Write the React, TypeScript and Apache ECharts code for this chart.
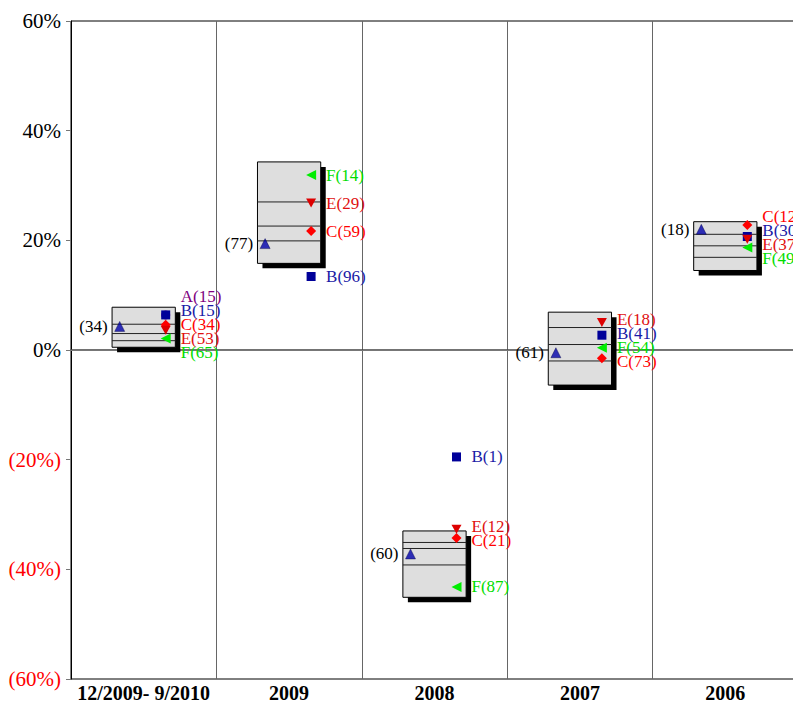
import React, { useEffect, useRef } from "react";
import * as echarts from "echarts";

// ---------- data ----------
const categories = ["12/2009- 9/2010", "2009", "2008", "2007", "2006"];
const boxTop = [7.8, 34.3, -33.0, 6.9, 23.4];
const boxLine1 = [4.7, 27.0, -35.1, 4.1, 21.1];
const boxLine2 = [3.0, 22.6, -36.2, 1.0, 19.0];
const boxLine3 = [1.7, 19.9, -39.2, -2.0, 16.9];
const boxBottom = [0.5, 15.8, -45.1, -6.4, 14.5];

const peerValues = [4.3, 19.4, -37.2, -0.5, 22.0];
const peerRanks = [34, 77, 60, 61, 18];

const fundAValues = [6.4, null, null, null, null];
const fundARanks = [15, null, null, null, null];
const fundBValues = [6.4, 13.4, -19.5, 2.7, 20.7];
const fundBRanks = [15, 96, 1, 41, 30];
const fundCValues = [4.6, 21.7, -34.3, -1.5, 22.8];
const fundCRanks = [34, 59, 21, 73, 12];
const fundEValues = [3.6, 26.8, -32.7, 5.0, 20.2];
const fundERanks = [53, 29, 12, 18, 37];
const fundFValues = [2.1, 31.9, -43.2, 0.4, 18.7];
const fundFRanks = [65, 14, 87, 54, 49];

const Y_MIN = -60;
const Y_MAX = 60;
const Y_STEP = 20;

// ---------- layout / style ----------
const CHART_W = 800;
const GRID_LEFT = 71;
const GRID_TOP = 21;
const GRID_W = 727;
const GRID_H = 659;
const FONT = '"Liberation Serif", "Times New Roman", serif';

type Fund = {
  name: string;
  values: (number | null)[];
  ranks: (number | null)[];
  symbol: string;
  rotate: number;
  size: number[];
  color: string;
  labelColor: string;
};

const funds: Fund[] = [
  { name: "A", values: fundAValues, ranks: fundARanks, symbol: "circle", rotate: 0, size: [9, 9], color: "#800080", labelColor: "#800080" },
  { name: "B", values: fundBValues, ranks: fundBRanks, symbol: "rect", rotate: 0, size: [9, 9], color: "#000099", labelColor: "#1a1aa6" },
  { name: "C", values: fundCValues, ranks: fundCRanks, symbol: "diamond", rotate: 0, size: [10, 10], color: "#ff0000", labelColor: "#ff0000" },
  { name: "E", values: fundEValues, ranks: fundERanks, symbol: "triangle", rotate: 180, size: [10, 9], color: "#dd0000", labelColor: "#e01010" },
  { name: "F", values: fundFValues, ranks: fundFRanks, symbol: "triangle", rotate: 90, size: [10, 10], color: "#00ee00", labelColor: "#00dd00" },
];

const PX_PER_UNIT = GRID_H / (Y_MAX - Y_MIN);
const LABEL_GAP = 14 / PX_PER_UNIT;

type LabelItem = { cat: number; value: number; text: string; color: string; labelValue: number };

function buildLabels(): LabelItem[] {
  const out: LabelItem[] = [];
  categories.forEach((_, ci) => {
    const items: LabelItem[] = [];
    funds.forEach((f) => {
      const v = f.values[ci];
      if (v == null) return;
      items.push({ cat: ci, value: v, text: `${f.name}(${f.ranks[ci]})`, color: f.labelColor, labelValue: v });
    });
    items.sort((a, b) => b.value - a.value);
    let clusters = items.map((it) => ({ members: [it], center: it.value }));
    const top = (c: any) => c.center + ((c.members.length - 1) / 2) * LABEL_GAP;
    const bottom = (c: any) => c.center - ((c.members.length - 1) / 2) * LABEL_GAP;
    let changed = true;
    while (changed) {
      changed = false;
      for (let k = 0; k < clusters.length - 1; k++) {
        const a = clusters[k];
        const b = clusters[k + 1];
        if (bottom(a) - top(b) < LABEL_GAP - 1e-9) {
          const members = a.members.concat(b.members);
          const center = members.reduce((s, m) => s + m.value, 0) / members.length;
          clusters.splice(k, 2, { members, center });
          changed = true;
          break;
        }
      }
    }
    clusters.forEach((c) => c.members.forEach((m, j) => (m.labelValue = top(c) - j * LABEL_GAP)));
    out.push(...items);
  });
  return out;
}

export default function App() {
  const ref = useRef<HTMLDivElement>(null);

  useEffect(() => {
    if (!ref.current) return;
    const chart = echarts.init(ref.current, null, { renderer: "svg" });
    const labels = buildLabels();

    const boxData = categories.map((_, i) => [i, boxTop[i], boxLine1[i], boxLine2[i], boxLine3[i], boxBottom[i]]);

    const fundSeries = funds.map((f) => ({
      type: "scatter",
      name: f.name,
      z: 3,
      symbol: f.symbol,
      symbolRotate: f.rotate,
      symbolSize: f.size,
      symbolOffset: [22, 0],
      itemStyle: { color: f.color, opacity: 1 },
      data: f.values.map((v, i) => (v == null ? null : [i, v])).filter((d) => d != null),
    }));

    chart.setOption({
      animation: false,
      backgroundColor: "#fff",
      grid: {
        left: GRID_LEFT,
        top: GRID_TOP,
        width: GRID_W,
        height: GRID_H,
        show: true,
        borderColor: "#000",
        borderWidth: 1,
      },
      xAxis: {
        type: "category",
        data: categories,
        boundaryGap: true,
        axisTick: { show: false },
        axisLine: { show: true, lineStyle: { color: "#444", width: 1.5 } },
        splitLine: { show: true, lineStyle: { color: "#666", width: 1 } },
        axisLabel: {
          color: "#000",
          fontFamily: FONT,
          fontWeight: "bold",
          fontSize: 20,
          margin: 4,
          interval: 0,
        },
      },
      yAxis: {
        type: "value",
        min: Y_MIN,
        max: Y_MAX,
        interval: Y_STEP,
        splitLine: { show: false },
        axisLine: { show: true, lineStyle: { color: "#000", width: 1 } },
        axisTick: { show: true, length: 5, lineStyle: { color: "#777" } },
        axisLabel: {
          fontFamily: FONT,
          fontSize: 21,
          margin: 10,
          formatter: (v: number) => (v < 0 ? `(${Math.abs(v)}%)` : `${v}%`),
          color: (v: any) => (Number(v) < 0 ? "#ff0000" : "#000"),
        },
      },
      series: [
        {
          type: "custom",
          name: "boxes",
          z: 2,
          data: boxData,
          encode: { x: 0, y: 1 },
          markLine: {
            silent: true,
            symbol: "none",
            z: 1,
            label: { show: false },
            lineStyle: { color: "#777", width: 1, type: "solid" },
            data: [{ yAxis: 0 }],
          },
          renderItem: (params: any, api: any) => {
            const ci = api.value(0);
            const cx = api.coord([ci, 0])[0];
            const band = api.size([1, 0])[0];
            const w = band * 0.435;
            const x0 = cx - w / 2;
            const yT = api.coord([ci, api.value(1)])[1];
            const y1 = api.coord([ci, api.value(2)])[1];
            const y2 = api.coord([ci, api.value(3)])[1];
            const y3 = api.coord([ci, api.value(4)])[1];
            const yB = api.coord([ci, api.value(5)])[1];
            const line = (y: number) => ({
              type: "line",
              shape: { x1: x0, y1: y, x2: x0 + w, y2: y },
              style: { stroke: "#222", lineWidth: 1 },
            });
            return {
              type: "group",
              children: [
                { type: "rect", shape: { x: x0 + 5, y: yT + 5, width: w, height: yB - yT }, style: { fill: "#000" } },
                { type: "rect", shape: { x: x0, y: yT, width: w, height: yB - yT }, style: { fill: "#dedede", stroke: "#000", lineWidth: 1 } },
                line(y1),
                line(y2),
                line(y3),
              ],
            };
          },
        },
        {
          type: "scatter",
          name: "peer",
          z: 3,
          symbol: "triangle",
          symbolSize: [10, 10],
          symbolOffset: [-24, 0],
          itemStyle: { color: "#0000aa", borderColor: "#000040", borderWidth: 0.5 },
          data: peerValues.map((v, i) => [i, v]),
        },
        ...fundSeries,
        {
          type: "custom",
          name: "peerLabels",
          z: 4,
          data: peerValues.map((v, i) => [i, v]),
          encode: { x: 0, y: 1 },
          renderItem: (params: any, api: any) => {
            const p = api.coord([api.value(0), api.value(1)]);
            return {
              type: "text",
              x: p[0] - 36,
              y: p[1],
              style: {
                text: `(${peerRanks[params.dataIndex]})`,
                fill: "#000",
                font: `17px ${FONT}`,
                align: "right",
                verticalAlign: "middle",
              },
            };
          },
        },
        {
          type: "custom",
          name: "fundLabels",
          z: 4,
          data: labels.map((l) => [l.cat, l.labelValue]),
          encode: { x: 0, y: 1 },
          renderItem: (params: any, api: any) => {
            const p = api.coord([api.value(0), api.value(1)]);
            const l = labels[params.dataIndex];
            return {
              type: "text",
              x: p[0] + 37,
              y: p[1],
              style: {
                text: l.text,
                fill: l.color,
                font: `17px ${FONT}`,
                align: "left",
                verticalAlign: "middle",
              },
            };
          },
        },
      ],
    });

    return () => chart.dispose();
  }, []);

  return (
    <div
      style={{ position: "absolute", left: 0, top: 0, width: 793, height: 703, overflow: "hidden" }}
    >
      <div ref={ref} style={{ width: CHART_W, height: 703 }} />
    </div>
  );
}
